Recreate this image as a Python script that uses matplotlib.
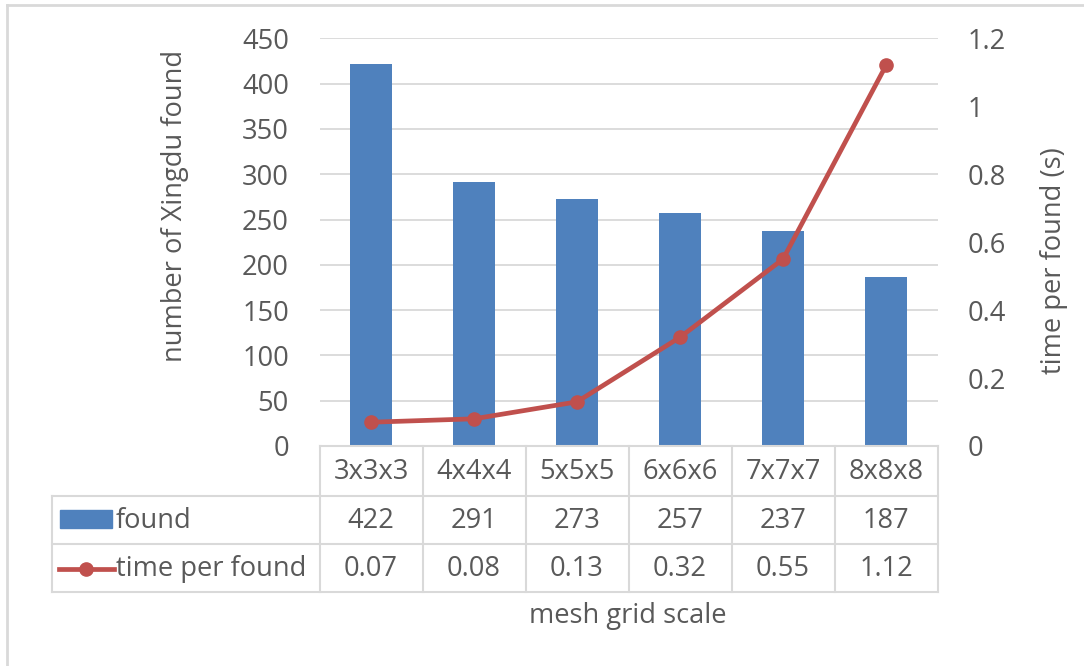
import matplotlib
matplotlib.use("Agg")
import matplotlib.pyplot as plt
import matplotlib.transforms as mtransforms
from matplotlib.lines import Line2D
from matplotlib.patches import Rectangle

plt.rcParams['font.family'] = ['Open Sans', 'DejaVu Sans']

categories = ["3x3x3", "4x4x4", "5x5x5", "6x6x6", "7x7x7", "8x8x8"]
found = [422, 291, 273, 257, 237, 187]
time_per_found = [0.07, 0.08, 0.13, 0.32, 0.55, 1.12]

W, H = 1084, 666
BLUE = "#4f81bd"
RED = "#c0504d"
GRID = "#d9d9d9"
TXT = "#595959"
FS = 19.6

fig = plt.figure(figsize=(W / 100, H / 100), dpi=100)

# plot area in pixels
px_left, px_right, px_top, px_bottom = 319.5, 937.5, 38.3, 446
ax = fig.add_axes([px_left / W, 1 - px_bottom / H,
                   (px_right - px_left) / W, (px_bottom - px_top) / H])
ax2 = ax.twinx()

x = list(range(len(categories)))
ax.bar(x, found, width=0.4, color=BLUE, zorder=2)
ax.set_xlim(-0.5, len(categories) - 0.5)
ax.set_ylim(0, 450)
ax.set_yticks(range(0, 451, 50))
ax.yaxis.grid(True, color=GRID, linewidth=1.3, zorder=0)
ax.set_axisbelow(True)
ax.set_xticks([])

ax2.plot(x, time_per_found, color=RED, linewidth=3.4, marker="o",
         markersize=9.5, zorder=3)
ax2.set_ylim(0, 1.2)
ax2.set_yticks([0, 0.2, 0.4, 0.6, 0.8, 1, 1.2])
ax2.set_yticklabels(["0", "0.2", "0.4", "0.6", "0.8", "1", "1.2"])

for a in (ax, ax2):
    for s in a.spines.values():
        s.set_visible(False)
    a.tick_params(length=0, labelsize=FS, colors=TXT, pad=22)

# axis titles
fig.text(175 / W, 1 - 206 / H, "number of Xingdu found", rotation=90,
         ha="center", va="center", fontsize=FS, color=TXT)
fig.text(1054 / W, 1 - 261 / H, "time per found (s)", rotation=90,
         ha="center", va="center", fontsize=FS, color=TXT)

# data table under the plot: x in data units, y in pixels from the top
cw = (px_right - px_left) / len(categories)
def xd(px):
    return -0.5 + (px - px_left) / cw

pix = mtransforms.Affine2D().scale(1, -1).translate(0, H)
trans = mtransforms.blended_transform_factory(ax.transData, pix)

rows = [446, 496, 544, 592]
tbl_left = 52
lw = 1.5

def hline(x0, x1, y):
    ax.add_line(Line2D([x0, x1], [y, y], transform=trans, color=GRID,
                       linewidth=lw, clip_on=False))

def vline(xv, y0, y1):
    ax.add_line(Line2D([xv, xv], [y0, y1], transform=trans, color=GRID,
                       linewidth=lw, clip_on=False))

hline(-0.5, len(categories) - 0.5, rows[0])
for y in rows[1:]:
    hline(xd(tbl_left), len(categories) - 0.5, y)
for i in range(len(categories) + 1):
    vline(i - 0.5, rows[0], rows[3])
vline(xd(tbl_left), rows[1], rows[3])

def mid(r):
    return (rows[r] + rows[r + 1]) / 2 + 1

for i, c in enumerate(categories):
    ax.text(i, mid(0), c, transform=trans, ha="center", va="center",
            fontsize=FS, color=TXT)
    ax.text(i, mid(1), str(found[i]), transform=trans, ha="center",
            va="center", fontsize=FS, color=TXT)
    ax.text(i, mid(2), f"{time_per_found[i]:.2f}", transform=trans,
            ha="center", va="center", fontsize=FS, color=TXT)

# legend keys inside the table
ax.add_patch(Rectangle((xd(60), 528), xd(112) - xd(60), -18, transform=trans,
                       color=BLUE, clip_on=False))
ax.add_line(Line2D([xd(59), xd(114)], [mid(2), mid(2)], transform=trans,
                   color=RED, linewidth=3.4, clip_on=False))
ax.add_line(Line2D([xd(86)], [mid(2)], transform=trans, color=RED,
                   marker="o", markersize=9.5, clip_on=False))
ax.text(xd(116), mid(1), "found", transform=trans, ha="left", va="center",
        fontsize=FS, color=TXT)
ax.text(xd(116), mid(2), "time per found", transform=trans, ha="left",
        va="center", fontsize=FS, color=TXT)

fig.text(628 / W, 1 - 616 / H, "mesh grid scale", ha="center", va="center",
         fontsize=FS, color=TXT)

# chart frame
fig.add_artist(Line2D([7 / W, 7 / W], [0, 1 - 5 / H], transform=fig.transFigure,
                      color=GRID, linewidth=2))
fig.add_artist(Line2D([7 / W, 1], [1 - 5 / H, 1 - 5 / H],
                      transform=fig.transFigure, color=GRID, linewidth=2))

fig.savefig("out.png", dpi=100)
